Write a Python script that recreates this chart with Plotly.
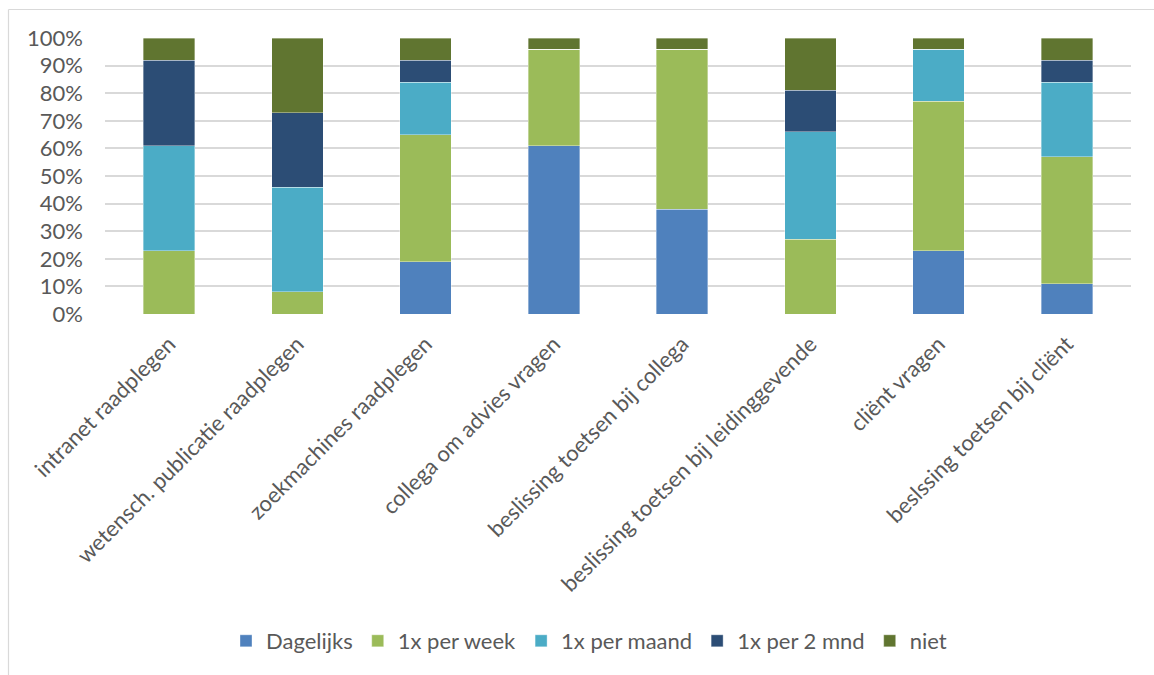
import plotly.graph_objects as go

categories = [
    "intranet raadplegen",
    "wetensch. publicatie raadplegen",
    "zoekmachines raadplegen",
    "collega om advies vragen",
    "beslissing toetsen bij collega",
    "beslissing toetsen bij leidinggevende",
    "cliënt vragen",
    "beslssing toetsen bij cliënt",
]
dagelijks = [0, 0, 19, 61, 38, 0, 23, 11]
per_week = [23, 8, 46, 35, 58, 27, 54, 46]
per_maand = [38, 38, 19, 0, 0, 39, 19, 27]
per_2mnd = [31, 27, 8, 0, 0, 15, 0, 8]
niet = [8, 27, 8, 4, 4, 19, 4, 8]

series_names = ["Dagelijks", "1x per week", "1x per maand", "1x per 2 mnd", "niet"]
series_values = [dagelijks, per_week, per_maand, per_2mnd, niet]
series_colors = ["#4F81BD", "#9BBB59", "#4BACC6", "#2C4D75", "#607530"]
y_ticks = [i / 10 for i in range(11)]
y_ticklabels = [f"{i * 10}%" for i in range(11)]

FONT = "Lato"
TXT = "#595959"
FS = 22

fig = go.Figure()
for name, vals, col in zip(series_names, series_values, series_colors):
    fig.add_trace(go.Bar(
        x=categories, y=[v / 100 for v in vals], name=name,
        marker=dict(color=col, line=dict(width=0.6, color="rgba(255,255,255,0.6)")),
    ))

W, H = 1154, 675
L, R, T, B = 105, 23, 38, 361
pw, ph = W - L - R, H - T - B

def px_x(x):
    return (x - L) / pw

def px_y(y):
    return (H - B - y) / ph

fig.update_layout(
    width=W, height=H,
    margin=dict(l=L, r=R, t=T, b=B, autoexpand=False),
    barmode="stack", bargap=0.6,
    plot_bgcolor="white", paper_bgcolor="white",
    font=dict(family=FONT, size=FS, color=TXT),
    xaxis=dict(tickangle=-45, tickfont=dict(size=FS, color=TXT), showgrid=False,
               showline=False, ticks="", automargin=False, ticklabelstandoff=12),
    yaxis=dict(range=[0, 1], tickvals=y_ticks, ticktext=y_ticklabels,
               tickfont=dict(size=FS, color=TXT), showgrid=True,
               gridcolor="#D9D9D9", gridwidth=1.5, zeroline=False,
               ticks="", ticklabelstandoff=21, automargin=False),
    legend=dict(orientation="h", x=px_x(589), xanchor="center", y=px_y(641), yanchor="middle",
                font=dict(size=FS, color=TXT), itemclick=False, traceorder="normal",
                itemwidth=30),
    showlegend=True,
)

fig.add_shape(type="line", xref="paper", yref="paper",
              x0=px_x(8.5), x1=px_x(8.5), y0=px_y(9.5), y1=px_y(700),
              line=dict(color="#D9D9D9", width=1.2), layer="below")
fig.add_shape(type="line", xref="paper", yref="paper",
              x0=px_x(8.5), x1=px_x(1200), y0=px_y(9.5), y1=px_y(9.5),
              line=dict(color="#D9D9D9", width=1.2), layer="below")

fig.write_html("out.html")
